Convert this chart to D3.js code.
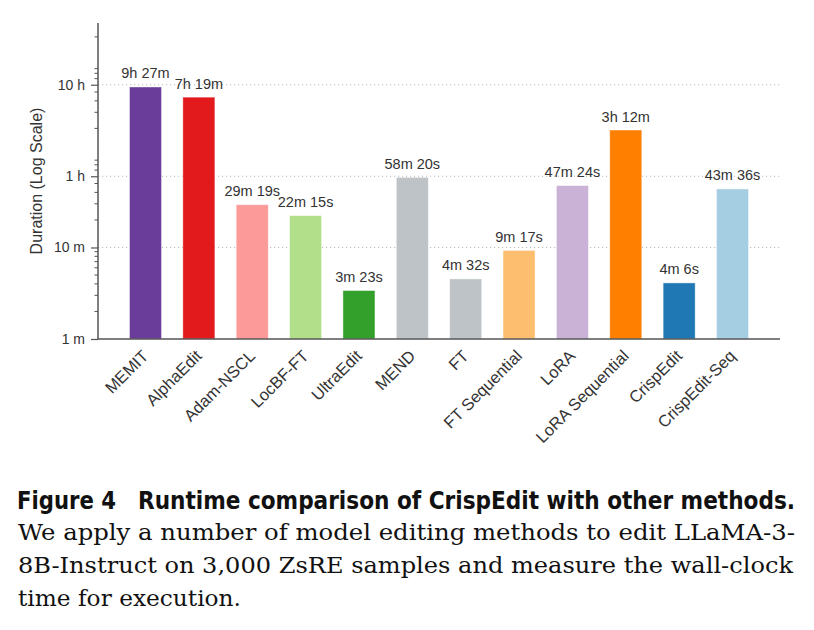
<!DOCTYPE html>
<html>
<head>
<meta charset="utf-8">
<script src="https://cdn.jsdelivr.net/npm/d3@7"></script>
<style>
  body { margin: 0; background: #fff; }
  svg { display: block; }
</style>
</head>
<body>
<svg id="main-canvas"></svg>
<script>
var methods = ["MEMIT", "AlphaEdit", "Adam-NSCL", "LocBF-FT", "UltraEdit", "MEND",
  "FT", "FT Sequential", "LoRA", "LoRA Sequential", "CrispEdit", "CrispEdit-Seq"];
// runtime in minutes
var minutes = [567, 439, 29.317, 22.25, 3.383, 58.333, 4.533, 9.283, 47.4, 192, 4.1, 43.6];
var valueLabels = ["9h 27m", "7h 19m", "29m 19s", "22m 15s", "3m 23s", "58m 20s",
  "4m 32s", "9m 17s", "47m 24s", "3h 12m", "4m 6s", "43m 36s"];
var barColors = ["#6a3d9a", "#e31a1c", "#fb9a99", "#b2df8a", "#33a02c", "#bdc3c7",
  "#bdc3c7", "#fdbf6f", "#cab2d6", "#ff7f00", "#1f78b4", "#a6cee3"];
var majorTicks = [1, 10, 60, 600];
var majorLabels = ["1 m", "10 m", "1 h", "10 h"];
var minorTicks = [2, 3, 4, 5, 6, 7, 8, 9, 20, 30, 40, 50, 70, 80, 90,
  200, 300, 400, 500, 700, 800, 900, 2000];

var W = 814, H = 630;
var plotLeft = 98, plotRight = 780, plotTop = 23, plotBottom = 339;
var AXIS_COLOR = '#555';
var TEXT_COLOR = '#333';
var SANS = "Liberation Sans, Arial, sans-serif";

var svg = d3.select("#main-canvas").attr("width", W).attr("height", H);
svg.append("rect").attr("width", W).attr("height", H).attr("fill", "#fff");

var xScale = d3.scaleBand().domain(methods).range([plotLeft, plotRight])
  .paddingInner(0.4).paddingOuter(0.59);
var yScale = d3.scaleLog().domain([1, 2836]).range([plotBottom, plotTop]);

// dotted grid at major ticks
svg.append("g").selectAll("line")
  .data(majorTicks.slice(1))
  .enter().append("line")
    .attr("x1", plotLeft).attr("x2", plotRight)
    .attr("y1", function(d) { return yScale(d); })
    .attr("y2", function(d) { return yScale(d); })
    .attr("stroke", "#bbb")
    .attr("stroke-width", 1)
    .attr("stroke-dasharray", "1.2,2.8");

svg.append("g").selectAll("rect")
  .data(methods)
  .enter().append("rect")
    .attr("x", function(d) { return xScale(d); })
    .attr("width", xScale.bandwidth())
    .attr("y", function(d, i) { return yScale(minutes[i]); })
    .attr("height", function(d, i) { return plotBottom - yScale(minutes[i]); })
    .attr("fill", function(d, i) { return barColors[i]; })
    .attr("stroke", "#fff")
    .attr("stroke-opacity", 0.5)
    .attr("stroke-width", 0.8);

svg.append("g").selectAll("text")
  .data(methods)
  .enter().append("text")
    .attr("x", function(d) { return xScale(d) + xScale.bandwidth() / 2; })
    .attr("y", function(d, i) { return yScale(minutes[i]) - 8.5; })
    .attr("text-anchor", "middle")
    .attr("font-family", SANS)
    .attr("font-size", "14.5px")
    .attr("fill", TEXT_COLOR)
    .text(function(d, i) { return valueLabels[i]; });

// y axis
var yAxis = svg.append("g").attr("transform", "translate(" + plotLeft + ",0)");
yAxis.call(d3.axisLeft(yScale).tickValues(majorTicks)
  .tickFormat(function(d, i) { return majorLabels[i]; })
  .tickSize(7).tickPadding(6));
yAxis.select(".domain").remove();
yAxis.selectAll(".tick line").attr("stroke", AXIS_COLOR).attr("stroke-width", 1.2);
yAxis.selectAll(".tick text")
  .attr("font-family", SANS)
  .attr("font-size", "14px").attr("fill", TEXT_COLOR);
yAxis.selectAll("line.minor")
  .data(minorTicks)
  .enter().append("line")
    .attr("class", "minor")
    .attr("x1", -3.5).attr("x2", 0)
    .attr("y1", function(d) { return yScale(d); })
    .attr("y2", function(d) { return yScale(d); })
    .attr("stroke", AXIS_COLOR).attr("stroke-width", 1);

svg.append("line")
  .attr("x1", plotLeft).attr("x2", plotLeft).attr("y1", plotTop).attr("y2", plotBottom)
  .attr("stroke", AXIS_COLOR).attr("stroke-width", 1.5);
svg.append("line")
  .attr("x1", plotLeft - 0.75).attr("x2", plotRight).attr("y1", plotBottom).attr("y2", plotBottom)
  .attr("stroke", AXIS_COLOR).attr("stroke-width", 1.5);

svg.append("text")
  .attr("transform", "translate(42," + ((plotTop + plotBottom) / 2) + ") rotate(-90)")
  .attr("text-anchor", "middle")
  .attr("font-family", SANS)
  .attr("font-size", "16px")
  .attr("fill", TEXT_COLOR)
  .text("Duration (Log Scale)");

// rotated category labels
svg.append("g").selectAll("text")
  .data(methods)
  .enter().append("text")
    .attr("transform", function(d) {
      var cx = xScale(d) + xScale.bandwidth() / 2;
      return "translate(" + (cx + 4) + ",357) rotate(-45)";
    })
    .attr("text-anchor", "end")
    .attr("font-family", SANS)
    .attr("font-size", "16.5px")
    .attr("fill", TEXT_COLOR)
    .text(function(d) { return d; });

// caption
var cap = svg.append("g");
cap.append("text")
  .attr("x", 17).attr("y", 509)
  .attr("font-family", "DejaVu Sans Condensed, DejaVu Sans, sans-serif")
  .attr("font-stretch", "condensed")
  .attr("font-weight", "bold").attr("font-size", "25px")
  .attr("textLength", 99).attr("lengthAdjust", "spacingAndGlyphs")
  .attr("fill", "#111")
  .text("Figure 4");
cap.append("text")
  .attr("x", 138).attr("y", 509)
  .attr("font-family", "DejaVu Sans Condensed, DejaVu Sans, sans-serif")
  .attr("font-stretch", "condensed")
  .attr("font-weight", "bold").attr("font-size", "25px")
  .attr("textLength", 657).attr("lengthAdjust", "spacingAndGlyphs")
  .attr("fill", "#111")
  .text("Runtime comparison of CrispEdit with other methods.");

var captionLines = [
  "We apply a number of model editing methods to edit LLaMA-3-",
  "8B-Instruct on 3,000 ZsRE samples and measure the wall-clock",
  "time for execution."
];
var captionWidths = [777, 775, 223];
cap.selectAll("text.body")
  .data(captionLines)
  .enter().append("text")
    .attr("class", "body")
    .attr("x", 18)
    .attr("y", function(d, i) { return 540 + i * 33; })
    .attr("font-family", "DejaVu Serif, serif")
    .attr("font-size", "22px")
    .attr("textLength", function(d, i) { return captionWidths[i]; })
    .attr("lengthAdjust", "spacingAndGlyphs")
    .attr("fill", "#111")
    .text(function(d) { return d; });
</script>
</body>
</html>
